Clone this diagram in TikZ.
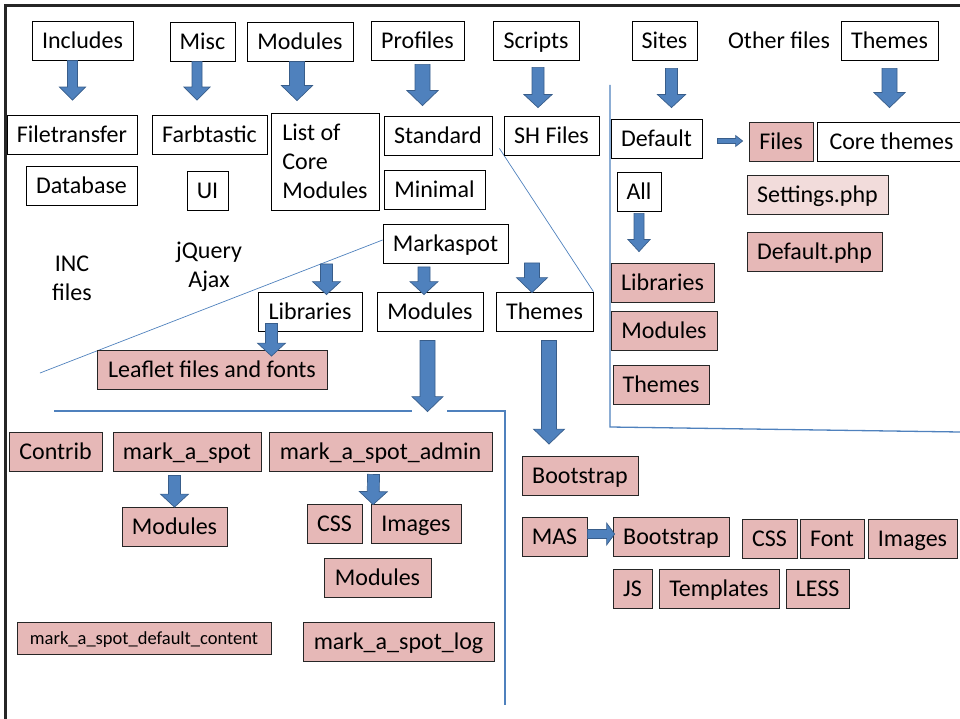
\documentclass[tikz,border=0pt]{standalone}
\usepackage{fontspec}
\setmainfont{Carlito}
\usetikzlibrary{calc,backgrounds}
\definecolor{boxpink}{RGB}{230,184,183}
\definecolor{palepink}{RGB}{242,220,219}
\definecolor{arrowblue}{RGB}{79,129,189}
\definecolor{arrowedge}{RGB}{56,93,138}
\newcommand{\bigtxt}{\fontsize{24}{28.8}\selectfont}
\newcommand{\smalltxt}{\fontsize{18.5}{22}\selectfont}
\tikzset{
  boxbase/.style={draw=black, line width=0.8pt, fill=white, inner sep=0pt, font=\bigtxt},
  whitebox/.style={boxbase, minimum height=39pt, text height=15.5pt, text depth=0pt},
  pinkbox/.style={whitebox, fill=boxpink, draw=black!85},
  freetext/.style={inner sep=0pt, font=\bigtxt, align=center},
  blkarrow/.style n args={3}{draw=arrowedge, fill=arrowblue, line width=0.7pt, line join=miter,
    to path={($(\tikztostart)!#1!-90:(\tikztotarget)$)
      -- ($(\tikztotarget)!#3!(\tikztostart)!#1!-90:(\tikztotarget)$)
      -- ($(\tikztotarget)!#3!(\tikztostart)!#2!-90:(\tikztotarget)$)
      -- (\tikztotarget)
      -- ($(\tikztotarget)!#3!(\tikztostart)!#2!90:(\tikztotarget)$)
      -- ($(\tikztotarget)!#3!(\tikztostart)!#1!90:(\tikztotarget)$)
      -- ($(\tikztostart)!#1!90:(\tikztotarget)$) -- cycle}},
  blk/.style={blkarrow={6pt}{14pt}{13pt}},
  wideblk/.style={blkarrow={7.5pt}{15.5pt}{15pt}},
  sideblk/.style={blkarrow={4.5pt}{11pt}{8pt}},
  slimblk/.style={blkarrow={2.5pt}{5.5pt}{7pt}},
  divider/.style={draw=arrowblue, line width=1.3pt},
  thinline/.style={draw=arrowblue, line width=0.7pt}
}
\begin{document}
\begin{tikzpicture}[x=1pt, y=-1pt]
\useasboundingbox (0,0) rectangle (960,719);
% Marco
\draw[line width=2.5pt, black!85] (5.5,719) -- (5.5,5.5) -- (960,5.5);
% Lineas
\coordinate (sitetop) at (610,85);
\coordinate (sitecorner) at (610,427);
\coordinate (siteend) at (960,432);
\coordinate (modleft) at (54,411);
\coordinate (modgapa) at (412,411);
\coordinate (modgapb) at (447,411);
\coordinate (modcorner) at (505,411);
\coordinate (modend) at (505,705);
\coordinate (incend) at (40,373);
\draw[divider] (sitetop) -- (sitecorner) -- (siteend);
\draw[divider] (modleft) -- (modgapa);
\draw[divider] (modgapb) -- (modcorner) -- (modend);
% ---
% Carpetas
% ---
\node[whitebox, minimum width=101pt] (inc) at (82.5,40.5) {Includes};
\node[whitebox, minimum width=65pt] (misc) at (202.5,41.5) {Misc};
\node[whitebox, minimum width=106pt] (modtop) at (300,41.5) {Modules};
\node[whitebox, minimum width=93pt] (prof) at (417.5,40.5) {Profiles};
\node[whitebox, minimum width=86pt] (scr) at (536,40.5) {Scripts};
\node[whitebox, minimum width=65pt] (sites) at (664.5,40.5) {Sites};
\node[freetext, text height=15.5pt, text depth=0pt] (other) at (779,41) {Other files};
\node[whitebox, minimum width=97pt] (themtop) at (889.5,40.5) {Themes};
% ---
% Contenido
% ---
\node[whitebox, minimum width=130pt] (filet) at (72,135) {Filetransfer};
\node[whitebox, minimum width=115pt] (farb) at (209.5,135) {Farbtastic};
\node[boxbase, minimum width=108pt, minimum height=97pt, align=left] (core) at (325,161.5) {List of\\Core\\Modules};
\node[whitebox, minimum width=108pt] (stand) at (438,135.5) {Standard};
\node[whitebox, minimum width=95pt] (shf) at (551.5,135.5) {SH Files};
\node[whitebox, minimum width=111pt] (db) at (81.5,185.5) {Database};
\node[whitebox, minimum width=41pt] (ui) at (207.5,190.5) {UI};
\node[whitebox, minimum width=101pt] (mini) at (434.5,190) {Minimal};
% ---
% Sites
% ---
\node[whitebox, minimum width=91pt] (dflt) at (656.5,139) {Default};
\node[pinkbox, minimum width=64pt] (files) at (781,141.5) {Files};
\node[whitebox, minimum width=149pt] (coreth) at (891.5,141.5) {Core themes};
\node[whitebox, minimum width=44pt] (all) at (639,191.5) {All};
\node[pinkbox, fill=palepink, minimum width=141pt] (sett) at (817.5,194.5) {Settings.php};
\node[pinkbox, minimum width=135pt] (dphp) at (814.5,251.5) {Default.php};
\node[pinkbox, minimum width=103pt] (libr) at (662.5,282.5) {Libraries};
\node[pinkbox, minimum width=106pt] (modr) at (664,331) {Modules};
\node[pinkbox, minimum width=96pt] (themr) at (661,384.5) {Themes};
% ---
% Markaspot
% ---
\node[whitebox, minimum width=125pt] (mksp) at (445.5,244) {Markaspot};
\node[whitebox, minimum width=104pt] (libm) at (310,311.5) {Libraries};
\node[whitebox, minimum width=106pt] (modm) at (430,311.5) {Modules};
\node[whitebox, minimum width=97pt] (themm) at (544.5,311.5) {Themes};
\node[pinkbox, minimum width=230pt] (leaf) at (212,370) {Leaflet files and fonts};
\node[freetext] (incfiles) at (72,278) {INC\\files};
\node[freetext] (jq) at (209,267) {jQuery\\Ajax};
\begin{pgfonlayer}{background}
  \draw[thinline] ([yshift=4pt]mksp.west) -- (incend);
  \draw[thinline] ([xshift=7pt,yshift=7pt]stand.south east) -- (themm.north east);
\end{pgfonlayer}
% ---
% Modulos
% ---
\node[pinkbox, minimum width=93pt] (contrib) at (55.5,451.5) {Contrib};
\node[pinkbox, minimum width=148pt] (mas) at (187,451.5) {mark\_a\_spot};
\node[pinkbox, minimum width=223pt] (masadm) at (380.5,451.5) {mark\_a\_spot\_admin};
\node[pinkbox, minimum width=105pt] (masmod) at (174.5,527) {Modules};
\node[pinkbox, minimum width=55pt] (admcss) at (334.5,523.5) {CSS};
\node[pinkbox, minimum width=90pt] (admimg) at (416,523.5) {Images};
\node[pinkbox, minimum width=107pt] (admmod) at (377.5,578) {Modules};
\node[pinkbox, minimum width=254pt, minimum height=32pt, text height=12pt, font=\smalltxt] (mdc) at (144,638) {mark\_a\_spot\_default\_content};
\node[pinkbox, minimum width=191pt] (mlog) at (398.5,641.5) {mark\_a\_spot\_log};
% ---
% Temas
% ---
\node[pinkbox, minimum width=116pt] (boot) at (580,476) {Bootstrap};
\node[pinkbox, minimum width=65pt] (masth) at (554.5,536.5) {MAS};
\node[pinkbox, minimum width=116pt] (mboot) at (671,537) {Bootstrap};
\node[pinkbox, minimum width=55pt] (thcss) at (769.5,538.5) {CSS};
\node[pinkbox, minimum width=64pt] (thfont) at (832,538.5) {Font};
\node[pinkbox, minimum width=89pt] (thimg) at (912.5,538.5) {Images};
\node[pinkbox, minimum width=39pt] (thjs) at (632.5,588.5) {JS};
\node[pinkbox, minimum width=120pt] (thtpl) at (719,588.5) {Templates};
\node[pinkbox, minimum width=63pt] (thless) at (817.5,588.5) {LESS};
% ---
% Flechas
% ---
\draw[blkarrow={5pt}{13pt}{13pt}] ([xshift=-10pt]inc.south) to ([xshift=0.5pt,yshift=15pt]filet.north);
\draw[blkarrow={5pt}{13pt}{13pt}] ([xshift=-5.5pt]misc.south) to ([xshift=-12.5pt,yshift=15pt]farb.north);
\draw[wideblk] ([xshift=-3pt]modtop.south) to ([xshift=-28pt,yshift=12pt]core.north);
\draw[wideblk] ([xshift=5pt,yshift=-4pt]prof.south) to ([xshift=-15.5pt,yshift=10pt]stand.north);
\draw[blk] ([xshift=2pt,yshift=-7pt]scr.south) to ([xshift=-13.5pt,yshift=8pt]shf.north);
\draw[blk] ([xshift=7pt,yshift=-8pt]sites.south) to ([xshift=15pt,yshift=11.5pt]dflt.north);
\draw[wideblk] ([yshift=-8pt]themtop.south) to ([xshift=-2pt,yshift=14pt]coreth.north);
\draw[slimblk] ([xshift=15pt,yshift=-2pt]dflt.east) to ([xshift=-6pt,yshift=0.5pt]files.west);
\draw[blkarrow={5pt}{11pt}{12pt}] ([yshift=-2pt]all.south) to ([xshift=-23.5pt,yshift=11pt]libr.north);
\draw[blk] ([xshift=-119pt]mksp.south) to ([xshift=16.5pt,yshift=-3pt]libm.north);
\draw[blk] ([xshift=-21.5pt,yshift=-3pt]mksp.south) to ([xshift=-6pt,yshift=-3pt]modm.north);
\draw[wideblk] ([xshift=86.5pt,yshift=1pt]mksp.south) to ([xshift=-12.5pt,yshift=-1pt]themm.north);
\draw[blk] ([xshift=-38.5pt,yshift=8pt]libm.south) to ([xshift=59.5pt,yshift=-6pt]leaf.north);
\draw[wideblk] ([xshift=-2.5pt,yshift=-9pt]modm.south) to ([xshift=47pt,yshift=20pt]masadm.north);
\draw[wideblk] ([xshift=4.5pt,yshift=-9pt]themm.south) to ([xshift=-31pt,yshift=12pt]boot.north);
\draw[blk] ([xshift=-12.5pt,yshift=-4pt]mas.south) to (masmod.north);
\draw[blk] ([xshift=-7pt,yshift=-3pt]masadm.south) to ([xshift=2.5pt,yshift=-1pt]admimg.north west);
\draw[sideblk] ([yshift=2.5pt]masth.east) to ([xshift=2pt,yshift=3pt]mboot.west);
\end{tikzpicture}
\end{document}
